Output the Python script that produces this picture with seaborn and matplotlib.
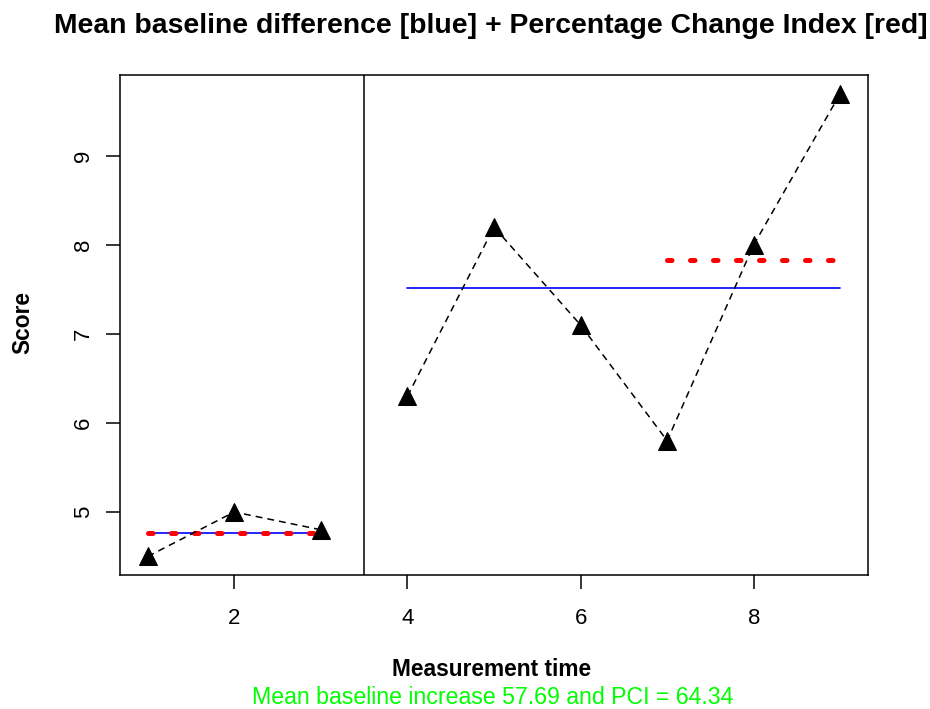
import matplotlib
matplotlib.use("Agg")
import matplotlib.pyplot as plt
import seaborn as sns
import pandas as pd
import numpy as np

# ---- data ----
time = [1, 2, 3, 4, 5, 6, 7, 8, 9]
score = [4.5, 5.0, 4.8, 6.3, 8.2, 7.1, 5.8, 8.0, 9.7]
phase = ["A", "A", "A", "B", "B", "B", "B", "B", "B"]
x_ticks = [2, 4, 6, 8]
y_ticks = [5, 6, 7, 8, 9]
phase_change = 3.5
title = "Mean baseline difference [blue] + Percentage Change Index [red]"
x_label = "Measurement time"
y_label = "Score"
summary = "Mean baseline increase 57.69 and PCI = 64.34"

df = pd.DataFrame({"time": time, "score": score, "phase": phase})
base = df[df.phase == "A"]
treat = df[df.phase == "B"]
base_mean = base.score.mean()
treat_mean = treat.score.mean()
last3 = treat.tail(3)
last3_mean = last3.score.mean()

sns.set_theme(style="white")
plt.rcParams["font.family"] = ["Liberation Sans", "DejaVu Sans"]

fig = plt.figure(figsize=(9.3, 7.09), dpi=100)
W, H = 930, 709
ax = fig.add_axes([120 / W, 1 - 575 / H, (868 - 120) / W, (575 - 75) / H])

dash_black = (0, (4.5, 3.3))
for part in (base, treat):
    sns.lineplot(data=part, x="time", y="score", ax=ax, color="black",
                 linestyle=dash_black, linewidth=1.1, marker="^",
                 markersize=12.5, markeredgecolor="black", zorder=5,
                 sort=False, estimator=None)

# blue mean lines
sns.lineplot(x=[base.time.min(), base.time.max()], y=[base_mean, base_mean],
             ax=ax, color="blue", linewidth=1.2, zorder=3)
sns.lineplot(x=[treat.time.min(), treat.time.max()], y=[treat_mean, treat_mean],
             ax=ax, color="blue", linewidth=1.2, zorder=3)
# red dotted PCI lines
red_ls = (0, (0.9, 3.7))
sns.lineplot(x=[base.time.min(), base.time.max()], y=[base_mean, base_mean],
             ax=ax, color="red", linewidth=3.6, linestyle=red_ls,
             dash_capstyle="round", zorder=4)
sns.lineplot(x=[last3.time.min(), last3.time.max()], y=[last3_mean, last3_mean],
             ax=ax, color="red", linewidth=3.6, linestyle=red_ls,
             dash_capstyle="round", zorder=4)

ax.axvline(phase_change, color="black", linewidth=1.1, zorder=2)

ax.set_xlim(0.68, 9.32)
ax.set_ylim(4.292, 9.908)
ax.set_xticks(x_ticks)
ax.set_yticks(y_ticks)
ax.set_xticklabels([str(t) for t in x_ticks], fontsize=16)
ax.set_yticklabels([str(t) for t in y_ticks], fontsize=16, rotation=90, va="center")
ax.tick_params(axis="both", direction="out", length=10, width=1.1, color="black",
               labelcolor="black", bottom=True, left=True)
ax.tick_params(axis="x", pad=14)
ax.tick_params(axis="y", pad=9)
for s in ax.spines.values():
    s.set_color("black")
    s.set_linewidth(1.1)
ax.set_xlabel("")
ax.set_ylabel("")
ax.grid(False)

fig.text(491 / W, 1 - 26 / H, title, ha="center", va="center", fontsize=20.4,
         fontweight="bold", color="black")
fig.text(492 / W, 1 - 670 / H, x_label, ha="center", va="center", fontsize=16.4,
         fontweight="bold", color="black")
fig.text(493 / W, 1 - 697 / H, summary, ha="center", va="center", fontsize=16.7,
         color="#00FF00")
fig.text(23 / W, 1 - 322 / H, y_label, ha="center", va="center", fontsize=16.4,
         fontweight="bold", rotation=90, color="black")

fig.savefig("out.png", dpi=100)
